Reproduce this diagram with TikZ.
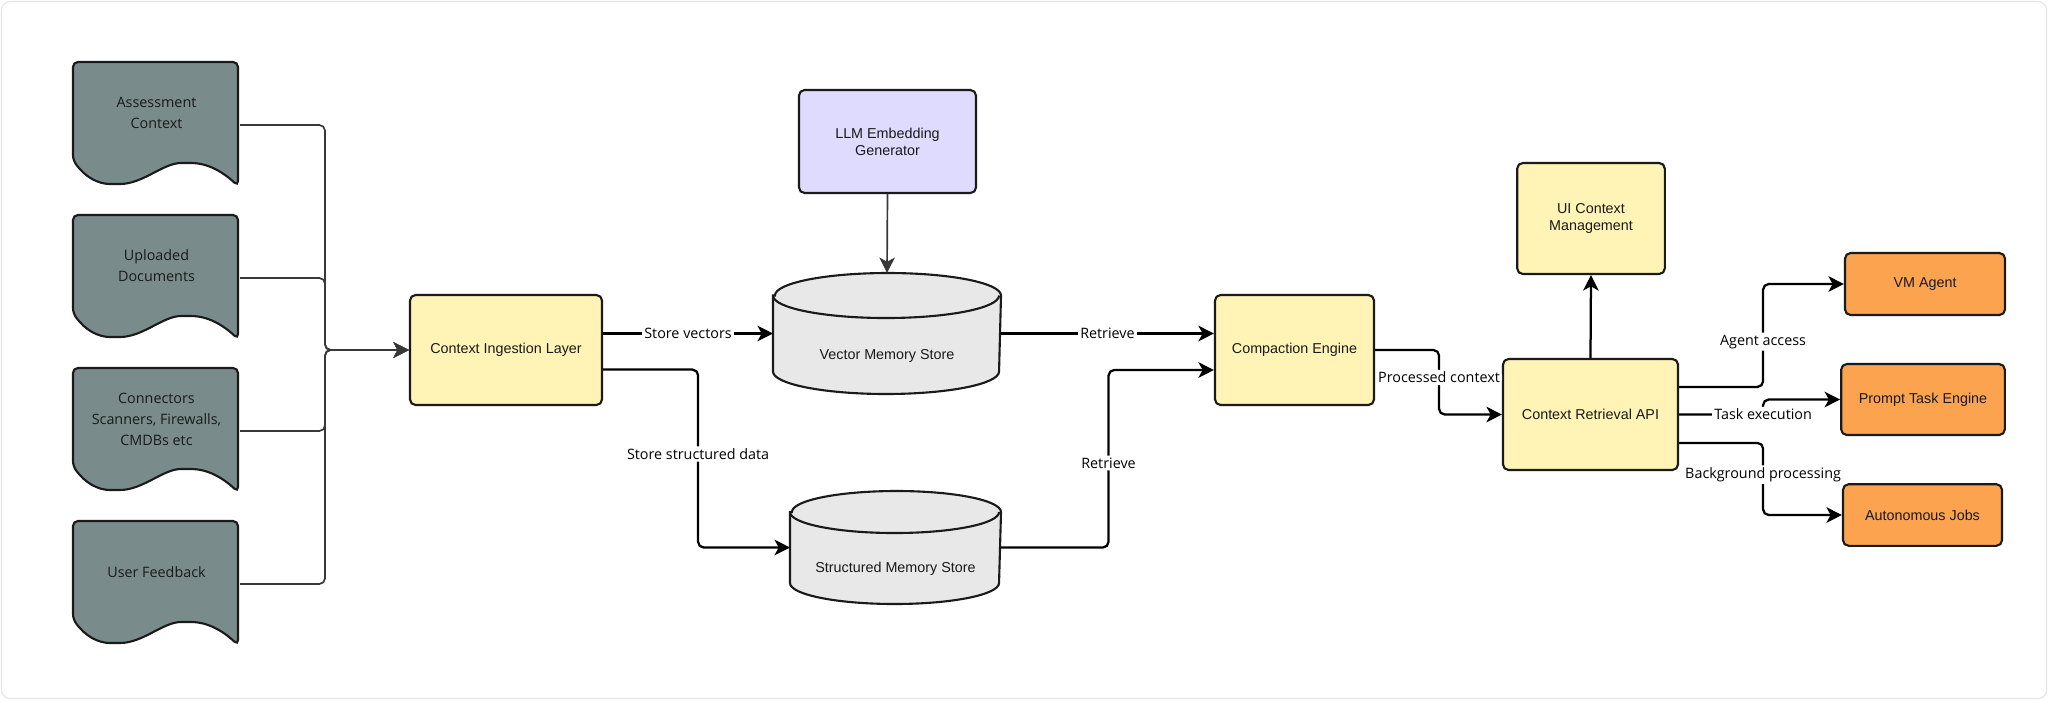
\documentclass[tikz,border=0pt]{standalone}
\usepackage{fontspec}
\setmainfont{Liberation Sans}
\newfontfamily\labelfont{Open Sans}
\usetikzlibrary{arrows.meta}

\definecolor{docgray}{RGB}{122,139,139}
\definecolor{boxyellow}{RGB}{255,244,181}
\definecolor{boxlilac}{RGB}{222,219,255}
\definecolor{boxorange}{RGB}{252,163,79}
\definecolor{storegray}{RGB}{232,232,232}
\definecolor{inkdark}{RGB}{26,26,26}

\newcommand{\docshape}[1]{%
  \begin{scope}[shift={(#1.north west)}]
    \filldraw[docbody] (80,0) -- (165,0) -- (165,124)
      .. controls (150,110) and (135,101) .. (113,101)
      .. controls (90,101) and (70,122) .. (42,122)
      .. controls (25,122) and (12,115) .. (0,98) -- (0,0) -- cycle;
  \end{scope}}

\newcommand{\storeshape}[3]{%
  \filldraw[storebody] ([yshift=-#3]#1.north west) -- ([yshift=#3]#1.south west)
    arc[start angle=180, end angle=360, x radius=#2, y radius=#3]
    -- ([yshift=-#3]#1.north east)
    arc[start angle=0, end angle=180, x radius=#2, y radius=#3] -- cycle;
  \draw[storebody, fill=none] ([yshift=-#3]#1.north west)
    arc[start angle=180, end angle=360, x radius=#2, y radius=#3];}

\begin{document}
\begin{tikzpicture}[
  x=0.025cm, y=-0.025cm,
  >={Stealth[length=11pt,width=11pt,inset=3pt]},
  box/.style={rectangle, rounded corners=4pt, draw=inkdark, line width=1.5pt, align=center,
    font=\fontsize{10.2}{12}\selectfont, text=inkdark, inner sep=2pt},
  core/.style={box, fill=boxyellow},
  embed/.style={box, fill=boxlilac},
  consumer/.style={box, fill=boxorange},
  docbox/.style={rectangle, minimum width=4.125cm, minimum height=3.1cm, inner sep=0pt, outer sep=0.7pt},
  docbody/.style={fill=docgray, draw=inkdark, line width=1.5pt, rounded corners=3.5pt},
  doctext/.style={align=center, font=\labelfont\fontsize{10.2}{14.9}\selectfont, text=inkdark},
  storebox/.style={rectangle, inner sep=0pt, outer sep=0.7pt},
  storebody/.style={fill=storegray, draw=inkdark, line width=1.5pt},
  storetext/.style={font=\fontsize{10.2}{12}\selectfont, text=inkdark},
  flow/.style={->, line width=1.6pt, draw=black, rounded corners=4pt},
  feed/.style={->, line width=1.2pt, draw=black!78, rounded corners=4pt},
  lbl/.style={fill=white, inner sep=1.5pt, font=\labelfont\fontsize{10.2}{12}\selectfont, text=black}
]
\useasboundingbox (0,0) rectangle (2048,700);
\draw[draw=black!10, line width=0.8pt, rounded corners=6pt] (1.5,1.5) rectangle (2046.5,698.5);

\foreach \name/\ypos/\txt in {docA/125/{Assessment\\Context}, docB/278/{Uploaded\\Documents},
    docC/431/{Connectors\\Scanners, Firewalls,\\CMDBs etc}, docD/584/{User Feedback}} {
  \node[docbox] (\name) at (156.5,\ypos) {};
  \docshape{\name}
  \node[doctext] (\name-t) at ([yshift=0.3cm]\name.center) {\txt};
}

\node[core, minimum width=4.8cm, minimum height=2.75cm] (cil) at (506,350) {Context Ingestion Layer};
\node[embed, minimum width=4.425cm, minimum height=2.575cm] (llm) at (887.5,141.5) {LLM Embedding\\Generator};

\node[storebox, minimum width=5.65cm, minimum height=2.975cm] (vms) at (887,333.5) {};
\storeshape{vms}{2.825cm}{0.5625cm}
\node[storetext] (vms-t) at ([yshift=-0.5625cm]vms.center) {Vector Memory Store};
\node[storebox, minimum width=5.225cm, minimum height=2.775cm] (sms) at (895.5,547.5) {};
\storeshape{sms}{2.6125cm}{0.525cm}
\node[storetext] (sms-t) at ([yshift=-0.54cm]sms.center) {Structured Memory Store};

\node[core, minimum width=3.975cm, minimum height=2.75cm] (ce) at (1294.5,350) {Compaction Engine};
\node[core, minimum width=3.69cm, minimum height=2.775cm] (ui) at (1591,218.5) {UI Context\\Management};
\node[core, minimum width=4.375cm, minimum height=2.775cm] (cra) at (1590.5,414.5) {Context Retrieval API};

\node[consumer, minimum width=4cm, minimum height=1.55cm] (vm) at (1925,284) {VM Agent};
\node[consumer, minimum width=4.09cm, minimum height=1.775cm] (pte) at (1923,399.5) {Prompt Task Engine};
\node[consumer, minimum width=3.975cm, minimum height=1.54cm] (aj) at (1922.5,515) {Autonomous Jobs};

\foreach \d in {docA,docB,docC,docD}
  \draw[feed] (\d.east) -- ++(85,0) |- (cil.west);

\draw[flow] (cil.east |- vms.west) -- node[lbl]{Store vectors} (vms.west);
\draw[flow] ([yshift=-0.49cm]cil.east) -- ++(95,0) |- node[lbl,pos=0.237]{Store structured data} (sms.west);
\draw[feed] (llm.south) -- (vms.north);
\draw[flow] (vms.east) -- node[lbl]{Retrieve} (vms.east -| ce.west);
\draw[flow] (sms.east) -- ++(107.5,0) |- node[lbl,pos=0.238]{Retrieve} ([yshift=-0.5cm]ce.west);
\draw[flow] (ce.east) -- ++(64,0) |- node[lbl,pos=0.213]{Processed context} (cra.west);
\draw[flow] (cra.north) -- (ui.south);
\draw[flow] ([yshift=0.69cm]cra.east) -- ++(84,0) |- node[lbl,pos=0.22]{Agent access} (vm.west);
\draw[flow] (cra.east) -- ++(84,0) node[lbl]{Task execution} |- (pte.west);
\draw[flow] ([yshift=-0.71cm]cra.east) -- ++(84,0) |- node[lbl,pos=0.22]{Background processing} (aj.west);
\end{tikzpicture}
\end{document}
